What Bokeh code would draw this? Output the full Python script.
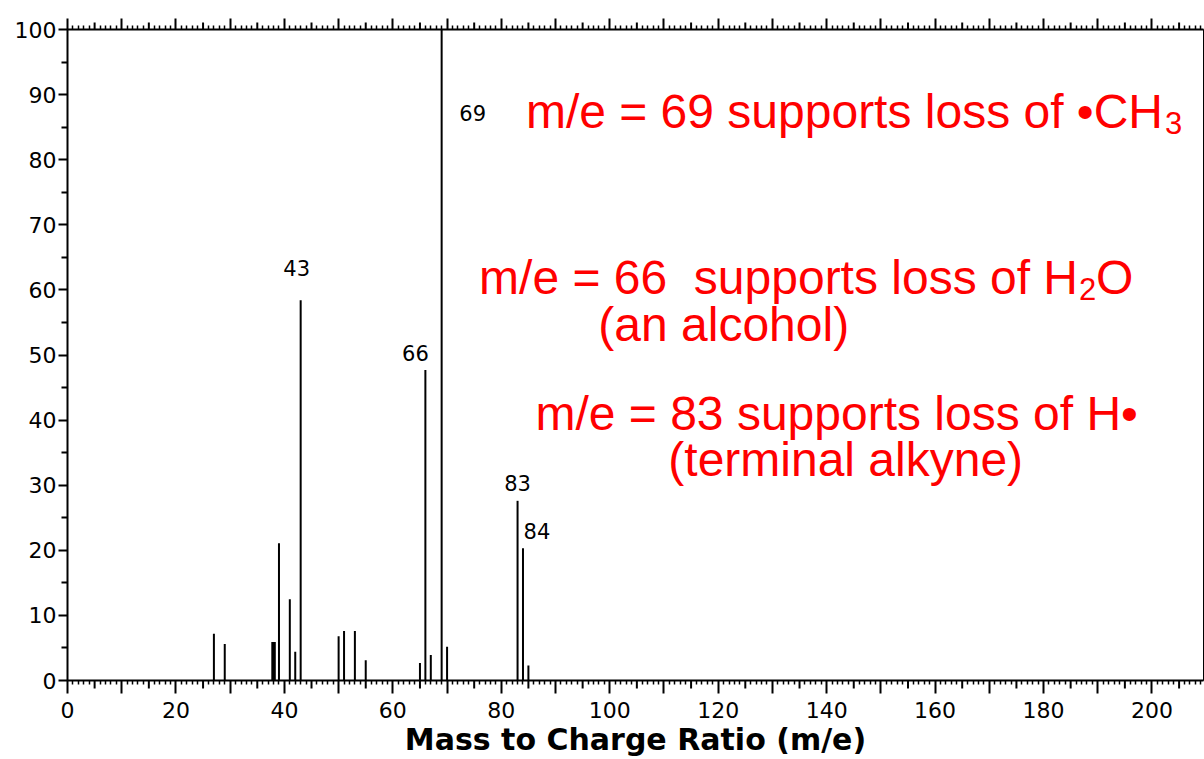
from bokeh.plotting import figure
from bokeh.models import Range1d, LinearAxis, FixedTicker, ColumnDataSource
from bokeh.core.properties import value
from bokeh.embed import file_html
from bokeh.resources import INLINE

# ---- data ----
mz = [27, 29, 38, 39, 41, 42, 43, 50, 51, 53, 55, 65, 66, 67, 69, 70, 83, 84, 85]
intensity = [7.2, 5.6, 5.9, 21.1, 12.5, 4.4, 58.4, 6.8, 7.6, 7.6, 3.1, 2.7, 47.7, 3.9, 100, 5.2, 27.6, 20.3, 2.3]
labeled_mz = [43, 66, 69, 83, 84]
x_major_ticks = list(range(0, 210, 10))
x_labeled_ticks = list(range(0, 201, 20))
y_major_ticks = list(range(0, 101, 10))
x_title = "Mass to Charge Ratio (m/e)"
NB = "\u00a0"
note_69 = "m/e = 69 supports loss of \u2022CH"
note_69_sub = "3"
note_66 = "m/e = 66 " + NB + "supports loss of H"
note_66_sub = "2"
note_66_tail = "O"
note_66_b = "(an alcohol)"
note_83 = "m/e = 83 supports loss of H\u2022"
note_83_b = "(terminal alkyne)"

TICK_FONT = "DejaVu Sans"
RED_FONT = "Liberation Sans"

X_MAX = 209.5
FRAME_H = 651.0          # frame height in px (y 0..100)
PX = 100.0 / FRAME_H     # data units per pixel on y

p = figure(width=1204, height=759, x_range=Range1d(0, X_MAX), y_range=Range1d(0, 100),
           output_backend="svg", toolbar_location=None, title=None,
           min_border_left=67, min_border_right=1, min_border_top=29, min_border_bottom=79)
p.xgrid.visible = False
p.ygrid.visible = False
p.outline_line_color = "black"
p.outline_line_width = 1
p.background_fill_color = "white"
p.border_fill_color = "white"

x_minor = [i for i in range(0, 210) if i % 5 != 0]
x_mid = [i for i in range(5, 210, 10)]

# main bottom axis
xa = p.xaxis[0]
xa.ticker = FixedTicker(ticks=x_major_ticks, minor_ticks=x_minor)
xa.major_label_overrides = {t: (str(t) if t in x_labeled_ticks else "") for t in x_major_ticks}
xa.major_tick_out = 13
xa.major_tick_in = 0
xa.minor_tick_out = 4
xa.minor_tick_in = 0
xa.axis_line_width = 2
xa.axis_line_color = "black"
xa.major_tick_line_width = 2
xa.minor_tick_line_width = 1.5
xa.major_tick_line_color = "black"
xa.minor_tick_line_color = "black"
xa.major_label_text_font = TICK_FONT
xa.major_label_text_font_size = "22px"
xa.major_label_text_color = "black"
xa.major_label_standoff = 8

# top border axis (ticks only)
top_ax = LinearAxis(ticker=FixedTicker(ticks=x_major_ticks, minor_ticks=x_minor),
                    major_tick_out=11, major_tick_in=0, minor_tick_out=4, minor_tick_in=0,
                    axis_line_width=2, axis_line_color="black",
                    major_tick_line_width=2, minor_tick_line_width=1.5,
                    major_tick_line_color="black", minor_tick_line_color="black",
                    major_label_text_font_size="0px", major_label_standoff=0,
                    major_label_overrides={t: "" for t in x_major_ticks})
p.add_layout(top_ax, "above")

# medium (every 5) ticks on bottom and top borders
p.segment(x0=x_mid, y0=[0] * len(x_mid), x1=x_mid, y1=[-8 * PX] * len(x_mid),
          line_color="black", line_width=2, line_cap="butt", level="overlay")
p.segment(x0=x_mid, y0=[100] * len(x_mid), x1=x_mid, y1=[100 + 7 * PX] * len(x_mid),
          line_color="black", line_width=2, line_cap="butt", level="overlay")

# x-axis title, drawn under the frame
p.text(x=[X_MAX / 2], y=[-59 * PX], text=[x_title], text_align="center", text_baseline="middle",
       text_font=value(TICK_FONT), text_font_style="bold", text_font_size=value("30px"),
       text_color="black", level="overlay")

# left axis
ya = p.yaxis[0]
ya.ticker = FixedTicker(ticks=y_major_ticks, minor_ticks=[v + 5 for v in y_major_ticks[:-1]])
ya.major_tick_out = 9
ya.major_tick_in = 0
ya.minor_tick_out = 6
ya.minor_tick_in = 0
ya.axis_line_width = 2
ya.axis_line_color = "black"
ya.major_tick_line_width = 2
ya.minor_tick_line_width = 2
ya.major_tick_line_color = "black"
ya.minor_tick_line_color = "black"
ya.major_label_text_font = TICK_FONT
ya.major_label_text_font_size = "22px"
ya.major_label_text_color = "black"
ya.major_label_standoff = 2

# peaks
src = ColumnDataSource(dict(mz=mz, intensity=intensity,
                            lw=[4.5 if m == 38 else 2 for m in mz]))
p.segment(x0="mz", y0=0, x1="mz", y1="intensity", source=src,
          line_color="black", line_width="lw", line_cap="butt")

# peak labels (pixel offsets from each peak top)
lab_offsets = {43: (-4, -32), 66: (-10, -17), 69: (31, 83), 83: (0, -18), 84: (14, -17)}
lab_src = ColumnDataSource(dict(
    x=labeled_mz,
    y=[intensity[mz.index(m)] for m in labeled_mz],
    text=[str(m) for m in labeled_mz],
    xo=[lab_offsets[m][0] for m in labeled_mz],
    yo=[lab_offsets[m][1] for m in labeled_mz],
))
p.text(x="x", y="y", text="text", x_offset="xo", y_offset="yo", source=lab_src,
       text_font=value(TICK_FONT), text_font_size=value("21px"), text_color="black",
       text_align="center", text_baseline="middle")

# red annotations
RED = "#ff0000"
big = dict(text_font=value(RED_FONT), text_font_size=value("48px"), text_color=RED,
           text_baseline="alphabetic")
small = dict(text_font=value(RED_FONT), text_font_size=value("31px"), text_color=RED,
             text_baseline="alphabetic")
DY = 17 * PX  # baseline correction

# line 1 (junction at end of "CH")
j1 = ((1163 - 67) / 5.425, 84.8 + DY)
p.text(x=[j1[0]], y=[j1[1]], text=[note_69], text_align="right", **big)
p.text(x=[j1[0]], y=[j1[1]], text=[note_69_sub], text_align="left", x_offset=2, y_offset=12, **small)

# line 2 (junction at end of "H")
j2 = ((1078 - 67) / 5.425, 59.6 + 15 * PX)
p.text(x=[j2[0]], y=[j2[1]], text=[note_66], text_align="right", **big)
p.text(x=[j2[0]], y=[j2[1]], text=[note_66_sub], text_align="left", x_offset=1, y_offset=11, **small)
p.text(x=[j2[0]], y=[j2[1]], text=[note_66_tail], text_align="left", x_offset=18, **big)
p.text(x=[97.9], y=[52.5 + 14 * PX], text=[note_66_b], text_align="left", **big)

# line 3
p.text(x=[86.3], y=[38.7 + 15 * PX], text=[note_83], text_align="left", **big)
p.text(x=[110.8], y=[31.6 + 15 * PX], text=[note_83_b], text_align="left", **big)

open("out.html", "w").write(file_html(p, INLINE))
